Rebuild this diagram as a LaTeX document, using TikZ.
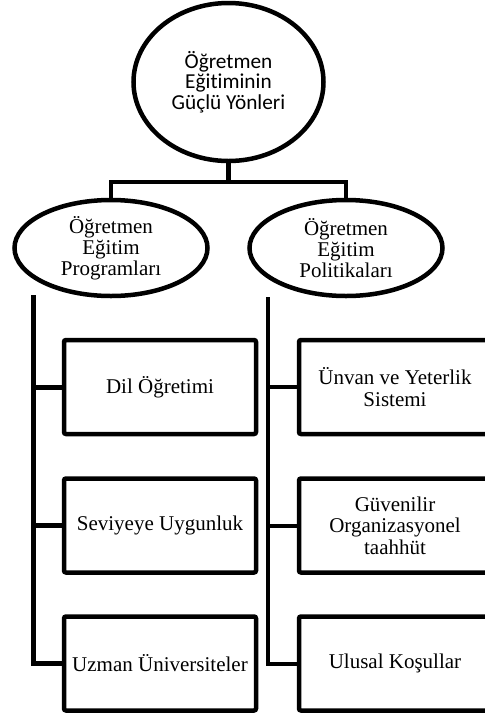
\documentclass[tikz,border=0pt]{standalone}
\usepackage{fontspec}
\setmainfont{Liberation Serif}
\newfontfamily\calib[Ligatures=NoCommon]{Carlito}
\usetikzlibrary{shapes.geometric}
\tikzset{
  oval/.style={ellipse, draw, line width=4.5pt, inner sep=0pt, align=center,
    font=\fontsize{21}{21}\selectfont},
  topoval/.style={oval, font=\calib\fontsize{21.3}{20.5}\selectfont},
  itembox/.style={draw, line width=4.5pt, rounded corners=2pt, minimum width=192pt,
    minimum height=94pt, inner sep=0pt, align=center, font=\fontsize{21}{21.5}\selectfont},
  link/.style={line width=4.5pt},
  trunkL/.style={line width=5pt},
  trunkR/.style={line width=4pt},
}
\begin{document}
\begin{tikzpicture}[x=1pt,y=-1pt]
\useasboundingbox (0,0) rectangle (485,716);
\begin{scope}
\clip (0,0) rectangle (485,716);
\node[topoval, minimum width=190pt, minimum height=158pt] (top) at (228.5,82) {Öğretmen\\Eğitiminin\\Güçlü Yönleri};
\node[oval, minimum width=193pt, minimum height=96pt] (prog) at (111,248) {\rule{0pt}{18pt}Öğretmen\\Eğitim\\Programları};
\node[oval, minimum width=193pt, minimum height=96pt] (pol) at (346,248) {\rule{0pt}{18pt}Öğretmen\\Eğitim\\Politikaları};

\coordinate (hub) at (top.south |- 0,182);
\draw[link] (top.south) -- (hub);
\draw[link] (prog.north) |- (hub) -| (pol.north);

\node[itembox] (b1) at (160,387) {Dil Öğretimi};
\node[itembox] (b2) at (160,525.5) {Seviyeye Uygunluk};
\node[itembox] (b3) at (160,663.5) {Uzman Üniversiteler};
\node[itembox] (c1) at (395,387) {Ünvan ve Yeterlik\\Sistemi};
\node[itembox] (c2) at (395,525.5) {Güvenilir\\Organizasyonel\\taahhüt};
\node[itembox] (c3) at (395,663.5) {Ulusal Koşullar};

\coordinate (lt) at (33,295);
\coordinate (rt) at (268,297);
\draw[trunkL] (lt) |- (b3.west);
\draw[trunkL] (lt |- b1.west) -- (b1.west);
\draw[trunkL] (lt |- b2.west) -- (b2.west);
\draw[trunkR] (rt) |- (c3.west);
\draw[trunkR] (rt |- c1.west) -- (c1.west);
\draw[trunkR] (rt |- c2.west) -- (c2.west);
\end{scope}
\end{tikzpicture}
\end{document}
